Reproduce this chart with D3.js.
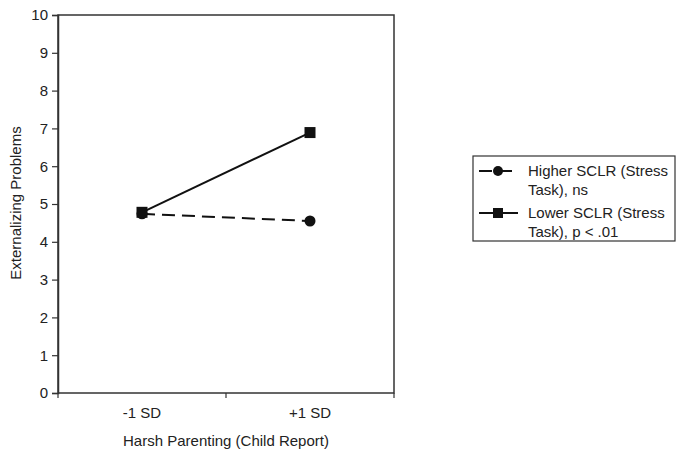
<!DOCTYPE html>
<html><head><meta charset="utf-8">
<script src="https://cdn.jsdelivr.net/npm/d3@7"></script>
<style>body{margin:0;background:#fff;} text{font-family:"Liberation Sans",Arial,sans-serif;fill:#222;}</style>
</head><body>
<svg id="c" width="685" height="457"></svg>
<script>
const categories = ["-1 SD", "+1 SD"];
const higherSCLR = [4.74, 4.55];
const lowerSCLR = [4.78, 6.89];
const yTicks = [0,1,2,3,4,5,6,7,8,9,10];
const seriesNames = ["Higher SCLR (Stress|Task), ns", "Lower SCLR (Stress|Task), p < .01"];

const svg = d3.select("#c");
const L = 58, R = 394, T = 15, B = 393;
const x = d3.scalePoint().domain(categories).range([L, R]).padding(0.5);
const xb = d3.scaleBand().domain(categories).range([L, R]);
const y = d3.scaleLinear().domain([0, 10]).range([B, T]);

// frame
svg.append("rect").attr("x", L).attr("y", T).attr("width", R - L).attr("height", B - T)
  .attr("fill", "none").attr("stroke", "#333").attr("stroke-width", 1.5);

// y axis
const ya = svg.append("g").attr("transform", `translate(${L},0)`)
  .call(d3.axisLeft(y).tickValues(yTicks).tickSize(6).tickPadding(4));
ya.select(".domain").attr("stroke", "#333").attr("stroke-width", 1.5);
ya.selectAll(".tick line").attr("stroke", "#333").attr("stroke-width", 1.2);
ya.selectAll("text").style("font-size", "15px").attr("fill", "#222");

// x axis (ticks at band boundaries)
const xa = svg.append("g").attr("transform", `translate(0,${B})`);
const bounds = [L, ...categories.slice(1).map(c => xb(c)), R];
xa.selectAll("line").data(bounds).join("line")
  .attr("x1", d => d).attr("x2", d => d).attr("y1", 0).attr("y2", 5)
  .attr("stroke", "#333").attr("stroke-width", 1.2);
xa.selectAll("text").data(categories).join("text")
  .attr("x", d => x(d)).attr("y", 25).attr("text-anchor", "middle")
  .style("font-size", "15px").text(d => d);

// axis titles
svg.append("text").attr("x", (L + R) / 2).attr("y", 446).attr("text-anchor", "middle")
  .style("font-size", "15px").text("Harsh Parenting (Child Report)");
svg.append("text").attr("transform", "translate(21,203) rotate(-90)").attr("text-anchor", "middle")
  .style("font-size", "15px").text("Externalizing Problems");

const line = d3.line().x((d, i) => x(categories[i])).y(d => y(d));

// higher (dashed, circles)
svg.append("path").datum(higherSCLR).attr("d", line).attr("fill", "none")
  .attr("stroke", "#111").attr("stroke-width", 2).attr("stroke-dasharray", "13,7");
svg.selectAll(".circ").data(higherSCLR).join("circle").attr("class", "circ")
  .attr("cx", (d, i) => x(categories[i])).attr("cy", d => y(d)).attr("r", 5.5).attr("fill", "#111");

// lower (solid, squares)
svg.append("path").datum(lowerSCLR).attr("d", line).attr("fill", "none")
  .attr("stroke", "#111").attr("stroke-width", 2);
svg.selectAll(".sq").data(lowerSCLR).join("rect").attr("class", "sq")
  .attr("x", (d, i) => x(categories[i]) - 5.5).attr("y", d => y(d) - 5.5)
  .attr("width", 11).attr("height", 11).attr("fill", "#111");

// legend
const lg = svg.append("g");
lg.append("rect").attr("x", 473).attr("y", 156).attr("width", 202).attr("height", 85)
  .attr("fill", "none").attr("stroke", "#333").attr("stroke-width", 1.2);
const rows = [
  {y: 171, dash: "13,7", mark: "circle"},
  {y: 213, dash: null, mark: "square"}
];
rows.forEach((r, i) => {
  lg.append("line").attr("x1", 479).attr("x2", 518).attr("y1", r.y).attr("y2", r.y)
    .attr("stroke", "#111").attr("stroke-width", 2).attr("stroke-dasharray", r.dash);
  if (r.mark === "circle") {
    lg.append("circle").attr("cx", 498).attr("cy", r.y).attr("r", 5).attr("fill", "#111");
  } else {
    lg.append("rect").attr("x", 493).attr("y", r.y - 5).attr("width", 10).attr("height", 10).attr("fill", "#111");
  }
  const parts = seriesNames[i].split("|");
  parts.forEach((p, j) => {
    lg.append("text").attr("x", 528).attr("y", r.y + 5 + j * 19)
      .style("font-size", "15px").text(p);
  });
});
</script>
</body></html>
